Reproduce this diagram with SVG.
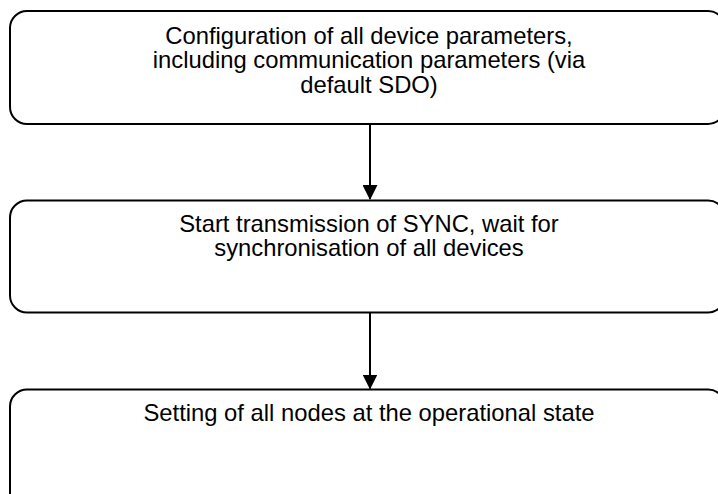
<svg xmlns="http://www.w3.org/2000/svg" width="718" height="494" viewBox="0 0 718 494">
<style>
.box{fill:#fff;stroke:#000;stroke-width:2}
.t{font-family:"Liberation Sans",Arial,sans-serif;font-size:23.8px;fill:#000;text-anchor:middle}
.c{stroke:#000;stroke-width:2;fill:none}
</style>
<defs>
<marker id="ah" markerWidth="15" markerHeight="15" viewBox="0 0 15 15" refX="14" refY="7.5" orient="auto" markerUnits="userSpaceOnUse">
<path d="M0,0 L15,7.5 L0,15 Z" fill="#000"/>
</marker>
</defs>
<rect width="718" height="494" fill="#fff"/>
<g id="node1">
<rect class="box" x="10" y="11" width="715" height="113" rx="17" ry="17"/>
<text class="t" x="369" y="43.5">Configuration of all device parameters,</text>
<text class="t" x="369" y="68">including communication parameters (via</text>
<text class="t" x="369" y="92.5">default SDO)</text>
</g>
<g id="node2">
<rect class="box" x="10" y="200.5" width="715" height="112" rx="17" ry="17"/>
<text class="t" x="369" y="231.5">Start transmission of SYNC, wait for</text>
<text class="t" x="369" y="256">synchronisation of all devices</text>
</g>
<g id="node3">
<rect class="box" x="10" y="389.5" width="715" height="130" rx="17" ry="17"/>
<text class="t" x="369" y="421">Setting of all nodes at the operational state</text>
</g>
<g id="connectors">
<line class="c" x1="370" y1="124" x2="370" y2="199" marker-end="url(#ah)"/>
<line class="c" x1="370" y1="312.5" x2="370" y2="388.5" marker-end="url(#ah)"/>
</g>
</svg>
